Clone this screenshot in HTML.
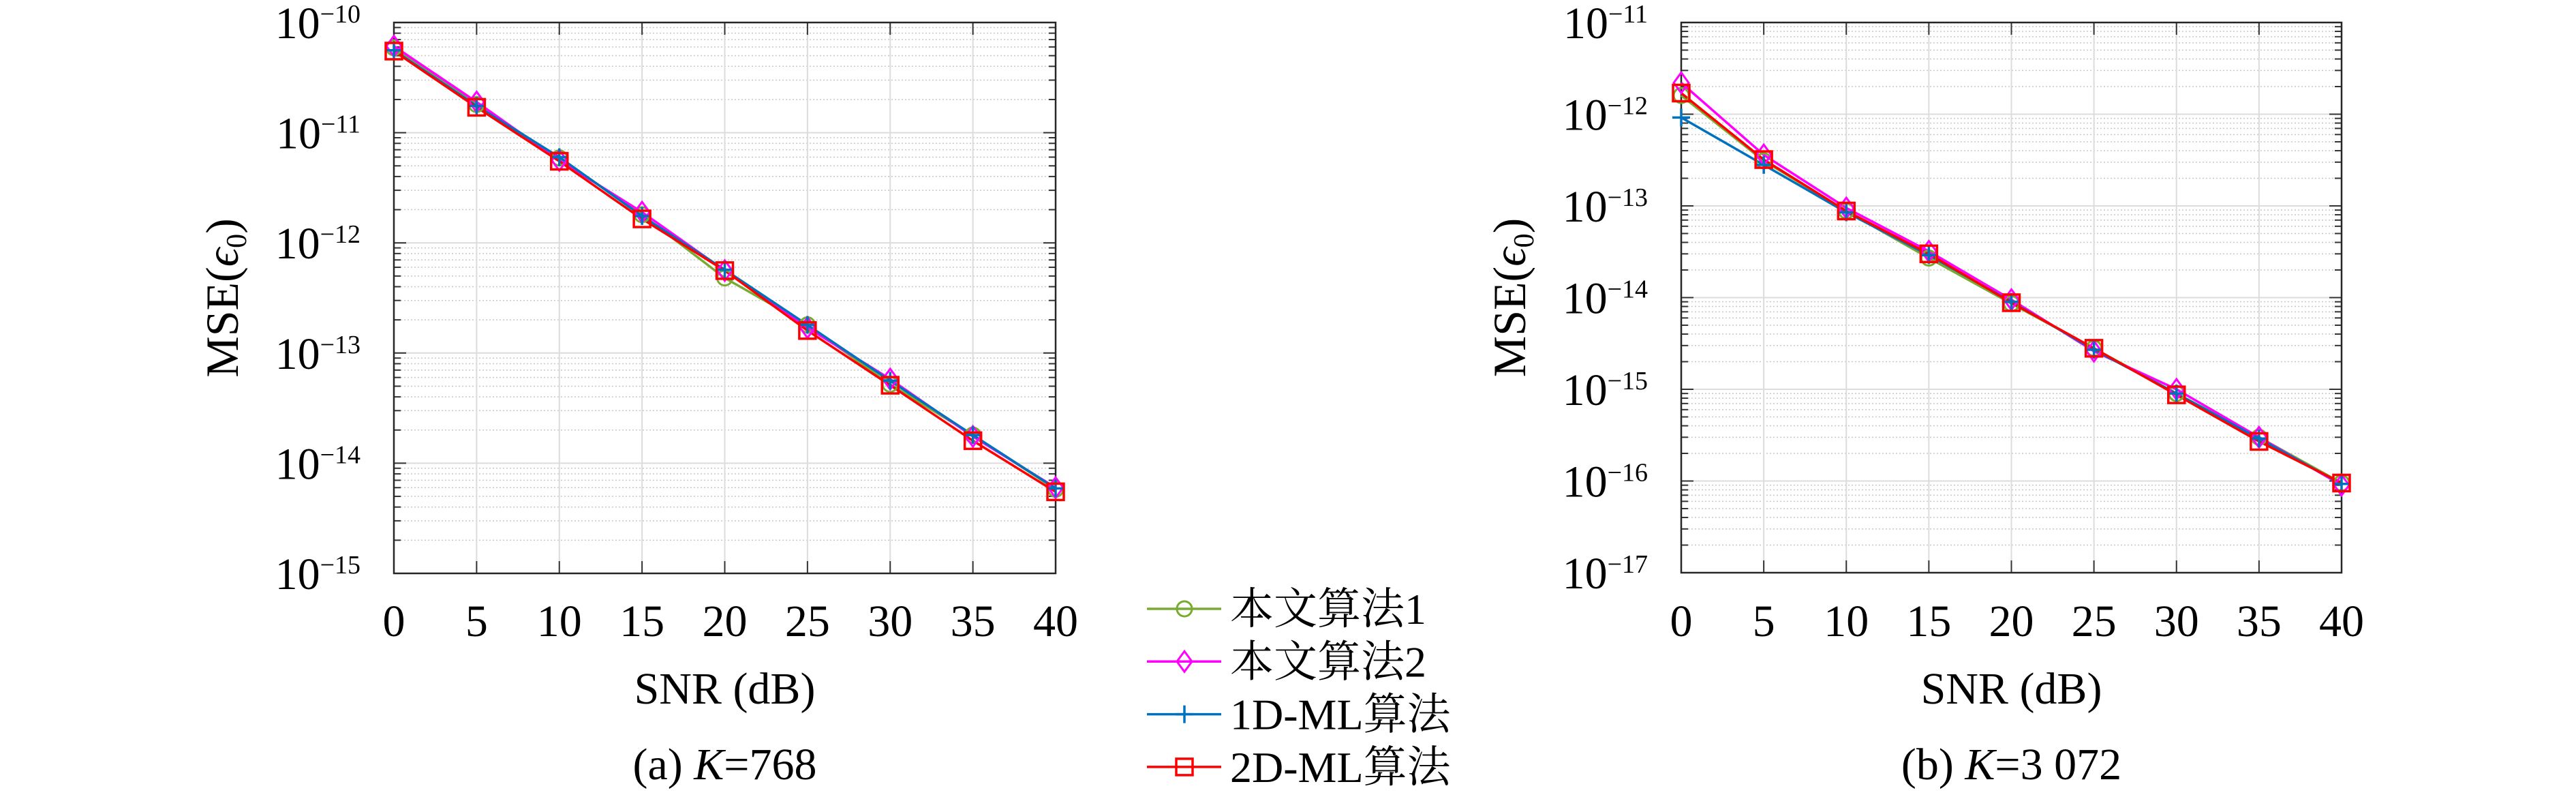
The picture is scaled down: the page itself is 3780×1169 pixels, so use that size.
<!DOCTYPE html>
<html><head><meta charset="utf-8"><style>
html,body{margin:0;padding:0;background:#fff;}
svg{display:block;}
</style></head><body>
<svg id="s" xmlns="http://www.w3.org/2000/svg" width="3780" height="1169" viewBox="0 0 3780 1169" font-family="'Liberation Serif', 'DejaVu Serif', 'Noto Serif CJK SC', serif"></svg>
<script>
const S=document.getElementById('s');let h='';
const F=`font-family="'Liberation Serif','DejaVu Serif','Noto Serif CJK SC',serif"`;
const C={g:'#77ac30',m:'#ff00ff',b:'#0072bd',r:'#ff0000'};
function marker(t,x,y){
 if(t=='g')return `<circle cx="${x}" cy="${y}" r="11" fill="none" stroke="${C.g}" stroke-width="3"/>`;
 if(t=='m')return `<polygon points="${x},${y-15} ${x+11},${y} ${x},${y+15} ${x-11},${y}" fill="none" stroke="${C.m}" stroke-width="3"/>`;
 if(t=='b')return `<path d="M${x-13} ${y}H${x+13}M${x} ${y-13}V${y+13}" stroke="${C.b}" stroke-width="3.5"/>`;
 return `<rect x="${x-12}" y="${y-12}" width="24" height="24" fill="none" stroke="${C.r}" stroke-width="3.5"/>`;
}
function plot(L,R,T,B,emax,emin,data,cap){
 const nd=emax-emin,dec=(B-T)/nd;
 const X=v=>L+(R-L)*v/40, Y=v=>T+(emax-Math.log10(v))*dec;
 for(let e=emin;e<emax;e++)for(let k=2;k<10;k++){const y=Y(k*Math.pow(10,e));
  h+=`<line x1="${L}" x2="${R}" y1="${y}" y2="${y}" stroke="#c8c8c8" stroke-width="1.5" stroke-dasharray="2,3"/>`;
  h+=`<line x1="${L}" x2="${L+10}" y1="${y}" y2="${y}" stroke="#333" stroke-width="2"/><line x1="${R}" x2="${R-10}" y1="${y}" y2="${y}" stroke="#333" stroke-width="2"/>`;}
 for(let e=emin;e<=emax;e++){const y=T+(emax-e)*dec;
  h+=`<line x1="${L}" x2="${R}" y1="${y}" y2="${y}" stroke="#dcdcdc" stroke-width="2"/>`;
  h+=`<line x1="${L}" x2="${L+18}" y1="${y}" y2="${y}" stroke="#333" stroke-width="2"/><line x1="${R}" x2="${R-18}" y1="${y}" y2="${y}" stroke="#333" stroke-width="2"/>`;
  h+=`<text ${F} x="${L-49}" y="${y+23}" text-anchor="end" font-size="66">10<tspan dy="-23" font-size="38">−${-e}</tspan></text>`;}
 for(let v=0;v<=40;v+=5){const x=X(v);
  h+=`<line x1="${x}" x2="${x}" y1="${T}" y2="${B}" stroke="#dcdcdc" stroke-width="2"/>`;
  h+=`<line x1="${x}" x2="${x}" y1="${T}" y2="${T+18}" stroke="#333" stroke-width="2"/><line x1="${x}" x2="${x}" y1="${B}" y2="${B-18}" stroke="#333" stroke-width="2"/>`;
  h+=`<text ${F} x="${x}" y="933" text-anchor="middle" font-size="66">${v}</text>`;}
 h+=`<rect x="${L}" y="${T}" width="${R-L}" height="${B-T}" fill="none" stroke="#262626" stroke-width="2.5"/>`;
 for(const t of ['g','m','b','r']){const d=data[t];
  h+=`<polyline fill="none" stroke="${C[t]}" stroke-width="3.5" points="${d.map((v,i)=>X(i*5)+','+Y(v)).join(' ')}"/>`;}
 for(const t of ['g','m','b','r']){data[t].forEach((v,i)=>h+=marker(t,X(i*5),Y(v)));}
 const cx=(L+R)/2;
 h+=`<text ${F} x="${cx}" y="1032" text-anchor="middle" font-size="66">SNR (dB)</text>`;
 h+=`<text ${F} x="${cx}" y="1143" text-anchor="middle" font-size="66">${cap}</text>`;
 const ly=(T+B)/2, lx=L-229;
 h+=`<text ${F} transform="translate(${lx},${ly}) rotate(-90)" text-anchor="middle" font-size="68">MSE(<tspan font-style="italic">ϵ</tspan><tspan font-size="42" dy="12">0</tspan><tspan dy="-12">)</tspan></text>`;
}
plot(578,1549,33,841,-10,-15,{
 g:[5.9e-11,1.8e-11,5.9e-12,1.8e-12,4.8e-13,1.8e-13,5.2e-14,1.8e-14,5.8e-15],
 m:[6.1e-11,1.9e-11,5.6e-12,1.9e-12,5.6e-13,1.7e-13,5.8e-14,1.75e-14,6.0e-15],
 b:[5.6e-11,1.75e-11,6.0e-12,1.75e-12,5.7e-13,1.8e-13,5.6e-14,1.8e-14,5.9e-15],
 r:[5.5e-11,1.7e-11,5.5e-12,1.65e-12,5.6e-13,1.6e-13,5.1e-14,1.6e-14,5.5e-15]},
 '(a) <tspan font-style="italic">K</tspan>=768');
plot(2467,3436,33,840,-11,-17,{
 g:[1.6e-12,3.1e-13,8.8e-14,2.7e-14,8.6e-15,2.8e-15,9.0e-16,3.0e-16,9.5e-17],
 m:[2.2e-12,3.6e-13,9.5e-14,3.2e-14,9.5e-15,2.6e-15,1.0e-15,3.0e-16,9.0e-17],
 b:[9.2e-13,2.8e-13,8.5e-14,2.9e-14,9.0e-15,2.7e-15,9.0e-16,2.9e-16,9.3e-17],
 r:[1.7e-12,3.2e-13,8.8e-14,3.0e-14,8.8e-15,2.8e-15,8.7e-16,2.7e-16,9.5e-17]},
 '(b) <tspan font-style="italic">K</tspan>=3 072');
const rows=[['g','本文算法1'],['m','本文算法2'],['b','1D-ML算法'],['r','2D-ML算法']];
rows.forEach((r,i)=>{const y=893+i*77.3;
 h+=`<line x1="1683" x2="1792" y1="${y}" y2="${y}" stroke="${C[r[0]]}" stroke-width="3.5"/>`+marker(r[0],1738,y);
 h+=`<text ${F} x="1805" y="${y+22}" font-size="64">${r[1]}</text>`;});
S.innerHTML=h;
</script>
</body></html>
